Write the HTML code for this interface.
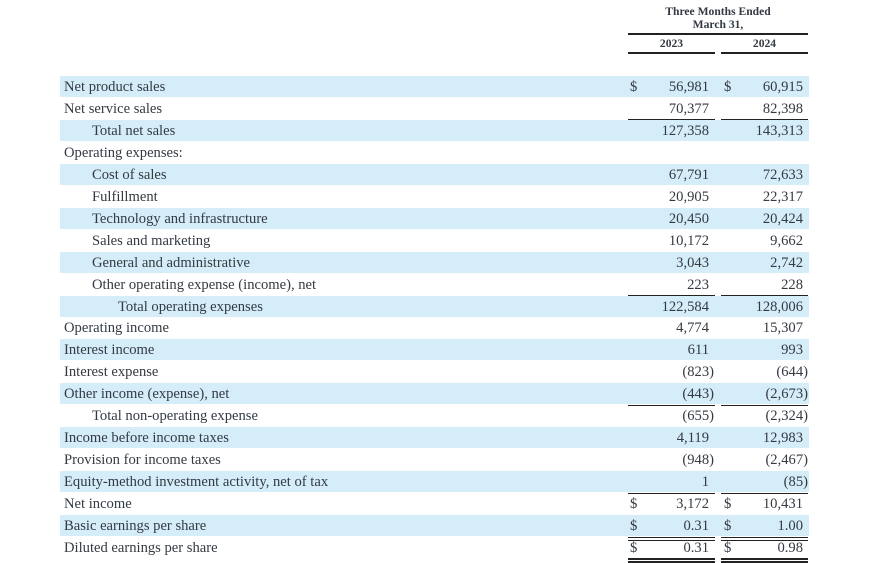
<!DOCTYPE html>
<html><head><meta charset="utf-8"><style>
body{margin:0;width:870px;height:563px;background:#fff;position:relative;overflow:hidden;font-family:"Liberation Serif",serif;color:#333a42;font-size:14.6px}
.r{position:absolute;left:60px;width:749px;height:21px;line-height:23px}
.s{background:#d5edf9}
.l{position:absolute;left:4px;white-space:nowrap}
.a{position:absolute;right:100px;text-align:right}
.b{position:absolute;right:6px;text-align:right}
.d1{position:absolute;left:570px}.d2{position:absolute;left:664px}
.u{position:absolute;height:1.5px;background:#222}
.h{position:absolute;font-weight:bold;font-size:11.6px;text-align:center}
</style></head><body>
<div class="h" style="left:628px;width:180px;top:5px;line-height:13px">Three Months Ended<br>March 31,</div>
<div class="u" style="left:628px;width:180px;top:33px"></div>
<div class="h" style="left:628px;width:87px;top:37px">2023</div>
<div class="h" style="left:721px;width:87px;top:37px">2024</div>
<div class="u" style="left:628px;width:87px;top:52px"></div>
<div class="u" style="left:721px;width:87px;top:52px"></div>
<div id="t"></div>
<script>
var rows=[
["Net product sales",0,"56,981","60,915",1,1],
["Net service sales",0,"70,377","82,398",0,0,1],
["Total net sales",28,"127,358","143,313",1],
["Operating expenses:",0,"","",0],
["Cost of sales",28,"67,791","72,633",1],
["Fulfillment",28,"20,905","22,317",0],
["Technology and infrastructure",28,"20,450","20,424",1],
["Sales and marketing",28,"10,172","9,662",0],
["General and administrative",28,"3,043","2,742",1],
["Other operating expense (income), net",28,"223","228",0,0,1],
["Total operating expenses",54,"122,584","128,006",1],
["Operating income",0,"4,774","15,307",0],
["Interest income",0,"611","993",1],
["Interest expense",0,"(823)","(644)",0],
["Other income (expense), net",0,"(443)","(2,673)",1,0,1],
["Total non-operating expense",28,"(655)","(2,324)",0,0,1],
["Income before income taxes",0,"4,119","12,983",1],
["Provision for income taxes",0,"(948)","(2,467)",0],
["Equity-method investment activity, net of tax",0,"1","(85)",1,0,1],
["Net income",0,"3,172","10,431",0,1,2],
["Basic earnings per share",0,"0.31","1.00",1,1,2],
["Diluted earnings per share",0,"0.31","0.98",0,1,2]];
var h="";
rows.forEach(function(r,i){
var top=76+i*21.95;
var pa=r[2].indexOf(")")>=0?-5:0,pb=r[3].indexOf(")")>=0?-5:0;
h+='<div class="r'+(r[4]?' s':'')+'" style="top:'+top+'px"><span class="l" style="left:'+(4+r[1])+'px">'+r[0]+'</span>'+
(r[5]?'<span class="d1">$</span><span class="d2">$</span>':'')+
'<span class="a" style="right:'+(100+pa)+'px">'+r[2]+'</span><span class="b" style="right:'+(6+pb)+'px">'+r[3]+'</span></div>';
if(r[6]){var y=top+21.5;
h+='<div class="u" style="left:628px;width:87px;top:'+y+'px"></div><div class="u" style="left:721px;width:87px;top:'+y+'px"></div>';
if(r[6]==2)h+='<div class="u" style="left:628px;width:87px;top:'+(y+3)+'px"></div><div class="u" style="left:721px;width:87px;top:'+(y+3)+'px"></div>';}
});
document.getElementById("t").innerHTML=h;
</script>
</body></html>
